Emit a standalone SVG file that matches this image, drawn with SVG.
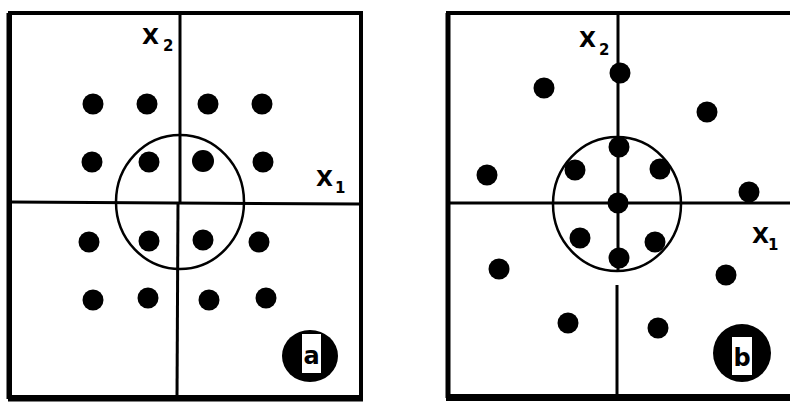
<svg xmlns="http://www.w3.org/2000/svg" width="790" height="410" viewBox="0 0 790 410">
<style>
.frame{fill:none;stroke:#000;stroke-width:4}
.axis{stroke:#000;stroke-width:3;fill:none}
.ring{fill:none;stroke:#000;stroke-width:2.5}
.dot{fill:#000}
.lbl{font-family:"DejaVu Sans","Liberation Sans",Arial,sans-serif;font-weight:bold;fill:#000}
.big{font-size:22px}
.sub{font-size:15px}
.tag{font-family:"DejaVu Sans","Liberation Sans",Arial,sans-serif;font-weight:bold;font-size:24px;fill:#000;text-anchor:middle}
</style>
<rect width="790" height="410" fill="#fff"/>
<g id="panel-a">
  <rect class="frame" x="10" y="13" width="351" height="384"/>
  <line x1="8" y1="399" x2="363" y2="399" stroke="#000" stroke-width="5"/>
  <line x1="9" y1="13" x2="9" y2="399" stroke="#000" stroke-width="5"/>
</g>
<g id="panel-b">
  <rect class="frame" x="448" y="13" width="360" height="383"/>
  <line x1="446" y1="398" x2="790" y2="398" stroke="#000" stroke-width="6"/>
  <line x1="448" y1="13" x2="448" y2="398" stroke="#000" stroke-width="5"/>
</g>
<g id="connectors">
  <line class="axis" x1="180" y1="13" x2="180" y2="202"/>
  <line class="axis" x1="178" y1="202" x2="177" y2="397"/>
  <line class="axis" x1="10" y1="202" x2="361" y2="204"/>
  <line class="axis" x1="618" y1="13" x2="618" y2="272"/>
  <line class="axis" x1="617" y1="285" x2="617" y2="396"/>
  <line class="axis" x1="448" y1="203" x2="790" y2="203"/>
</g>
<g id="circle-a"><ellipse class="ring" cx="180" cy="202" rx="64" ry="67"/></g>
<g id="circle-b"><ellipse class="ring" cx="617" cy="204" rx="64" ry="67"/></g>
<g id="dots-a">
  <circle class="dot" cx="93" cy="104" r="10.5"/>
  <circle class="dot" cx="147" cy="104" r="10.5"/>
  <circle class="dot" cx="208" cy="104" r="10.5"/>
  <circle class="dot" cx="262" cy="104" r="10.5"/>
  <circle class="dot" cx="92" cy="162" r="10.5"/>
  <circle class="dot" cx="149" cy="162" r="10.5"/>
  <circle class="dot" cx="203" cy="161" r="11"/>
  <circle class="dot" cx="263" cy="162" r="10.5"/>
  <circle class="dot" cx="89" cy="242" r="10.5"/>
  <circle class="dot" cx="149" cy="241" r="10.5"/>
  <circle class="dot" cx="203" cy="240" r="10.5"/>
  <circle class="dot" cx="259" cy="242" r="10.5"/>
  <circle class="dot" cx="93" cy="300" r="10.5"/>
  <circle class="dot" cx="148" cy="298" r="10.5"/>
  <circle class="dot" cx="209" cy="300" r="10.5"/>
  <circle class="dot" cx="266" cy="298" r="10.5"/>
</g>
<g id="dots-b">
  <circle class="dot" cx="620" cy="73" r="10.5"/>
  <circle class="dot" cx="544" cy="88" r="10.5"/>
  <circle class="dot" cx="707" cy="112" r="10.5"/>
  <circle class="dot" cx="487" cy="175" r="10.5"/>
  <circle class="dot" cx="619" cy="147" r="10.5"/>
  <circle class="dot" cx="575" cy="170" r="10.5"/>
  <circle class="dot" cx="660" cy="169" r="10.5"/>
  <circle class="dot" cx="749" cy="192" r="10.5"/>
  <circle class="dot" cx="618" cy="203" r="10.5"/>
  <circle class="dot" cx="580" cy="238" r="10.5"/>
  <circle class="dot" cx="655" cy="242" r="10.5"/>
  <circle class="dot" cx="619" cy="258" r="10.5"/>
  <circle class="dot" cx="499" cy="269" r="10.5"/>
  <circle class="dot" cx="726" cy="275" r="10.5"/>
  <circle class="dot" cx="568" cy="323" r="10.5"/>
  <circle class="dot" cx="658" cy="328" r="10.5"/>
</g>
<g id="labels-a">
  <text class="lbl big" x="142" y="44">X</text><text class="lbl sub" x="163" y="51">2</text>
  <text class="lbl big" x="316" y="186">X</text><text class="lbl sub" x="335" y="193">1</text>
</g>
<g id="labels-b">
  <text class="lbl big" x="579" y="47">X</text><text class="lbl sub" x="599" y="55">2</text>
  <text class="lbl big" x="752" y="243">X</text><text class="lbl sub" x="768" y="250">1</text>
</g>
<g id="tag-a">
  <ellipse cx="310" cy="356" rx="28" ry="26" fill="#000"/>
  <rect x="302" y="334" width="19" height="39" fill="#fff"/>
  <text class="tag" x="311.5" y="364">a</text>
</g>
<g id="tag-b">
  <circle cx="742" cy="353" r="29" fill="#000"/>
  <rect x="732" y="337" width="20" height="38" fill="#fff"/>
  <text class="tag" x="742" y="366">b</text>
</g>
</svg>
